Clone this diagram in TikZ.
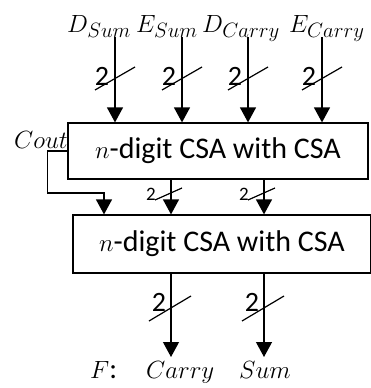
\documentclass[tikz,border=0pt]{standalone}
\usepackage{fontspec}
\setmainfont{Carlito}
\usetikzlibrary{arrows.meta}

\begin{document}
\begin{tikzpicture}[x=1pt, y=-1pt,
    box/.style={draw, line width=1.2pt, minimum width=300pt, minimum height=56pt,
                font=\fontsize{30}{36}\selectfont, inner sep=0pt},
    lbl/.style={font=\fontsize{29}{34}\selectfont, inner sep=0pt},
    arr/.style={line width=1.2pt, -{Triangle[width=16pt,length=15pt]}},
    bar/.style={line width=1.2pt},
    num/.style={font=\fontsize{28}{33}\selectfont, inner sep=0pt},
    smallnum/.style={font=\fontsize{19}{23}\selectfont, inner sep=0pt},
  ]
  \useasboundingbox (0,0) rectangle (371,388);

  % the two adder blocks
  \node[box] (csa1) at (218,151) {$n$-digit CSA with CSA};
  \node[box, minimum width=298pt, minimum height=58pt] (csa2) at (222,244)
    {$n$-digit CSA with CSA};

  % inputs
  \node[lbl, anchor=base west] (dsum) at (67,32) {$D_{Sum}$};
  \node[lbl, anchor=base west] (esum) at (136,32) {$E_{Sum}$};
  \node[lbl, anchor=base west] (dcarry) at (202,32) {$D_{Carry}$};
  \node[lbl, anchor=base west] (ecarry) at (289,32) {$E_{Carry}$};
  \coordinate (in1) at (115,37);
  \coordinate (in2) at (182,37);
  \coordinate (in3) at (248,37);
  \coordinate (in4) at (322,37);
  \foreach \i in {1,...,4} {
    \draw[arr] (in\i) -- (in\i |- csa1.north);
    \draw[bar] (in\i) ++(-20,53) -- ++(40,-23);
    \path (in\i) ++(-13,39) node[num] (w\i) {2};
  }

  % between the blocks
  \coordinate (m1) at (171,179);
  \coordinate (m2) at (264,179);
  \foreach \i in {1,2} {
    \draw[arr] (m\i) -- (m\i |- csa2.north);
    \draw[bar] (m\i) ++(-16,21) -- ++(27,-12);
    \path (m\i) ++(-20,15) node[smallnum] (v\i) {2};
  }

  % carry out
  \node[font=\fontsize{23}{27}\selectfont, inner sep=0pt, anchor=base west] (cout)
    at (14,148) {$Cout$};
  \coordinate (cin) at (104,193);
  \draw[arr] (csa1.west) -- ++(-20,0) |- (cin) -- (cin |- csa2.north);

  % outputs
  \coordinate (o1) at (171,357);
  \coordinate (o2) at (264,357);
  \foreach \i in {1,2} {
    \draw[arr] (o\i |- csa2.south) -- (o\i);
    \draw[bar] (o\i) ++(-22,-36) -- ++(42,-25);
    \path (o\i) ++(-12,-55) node[num] (u\i) {2};
  }
  \node[lbl, anchor=base west] (f) at (90,378) {$F$:};
  \node[lbl, anchor=base west] (carry) at (146,378) {$Carry$};
  \node[lbl, anchor=base west] (sum) at (239,378) {$Sum$};
\end{tikzpicture}
\end{document}
